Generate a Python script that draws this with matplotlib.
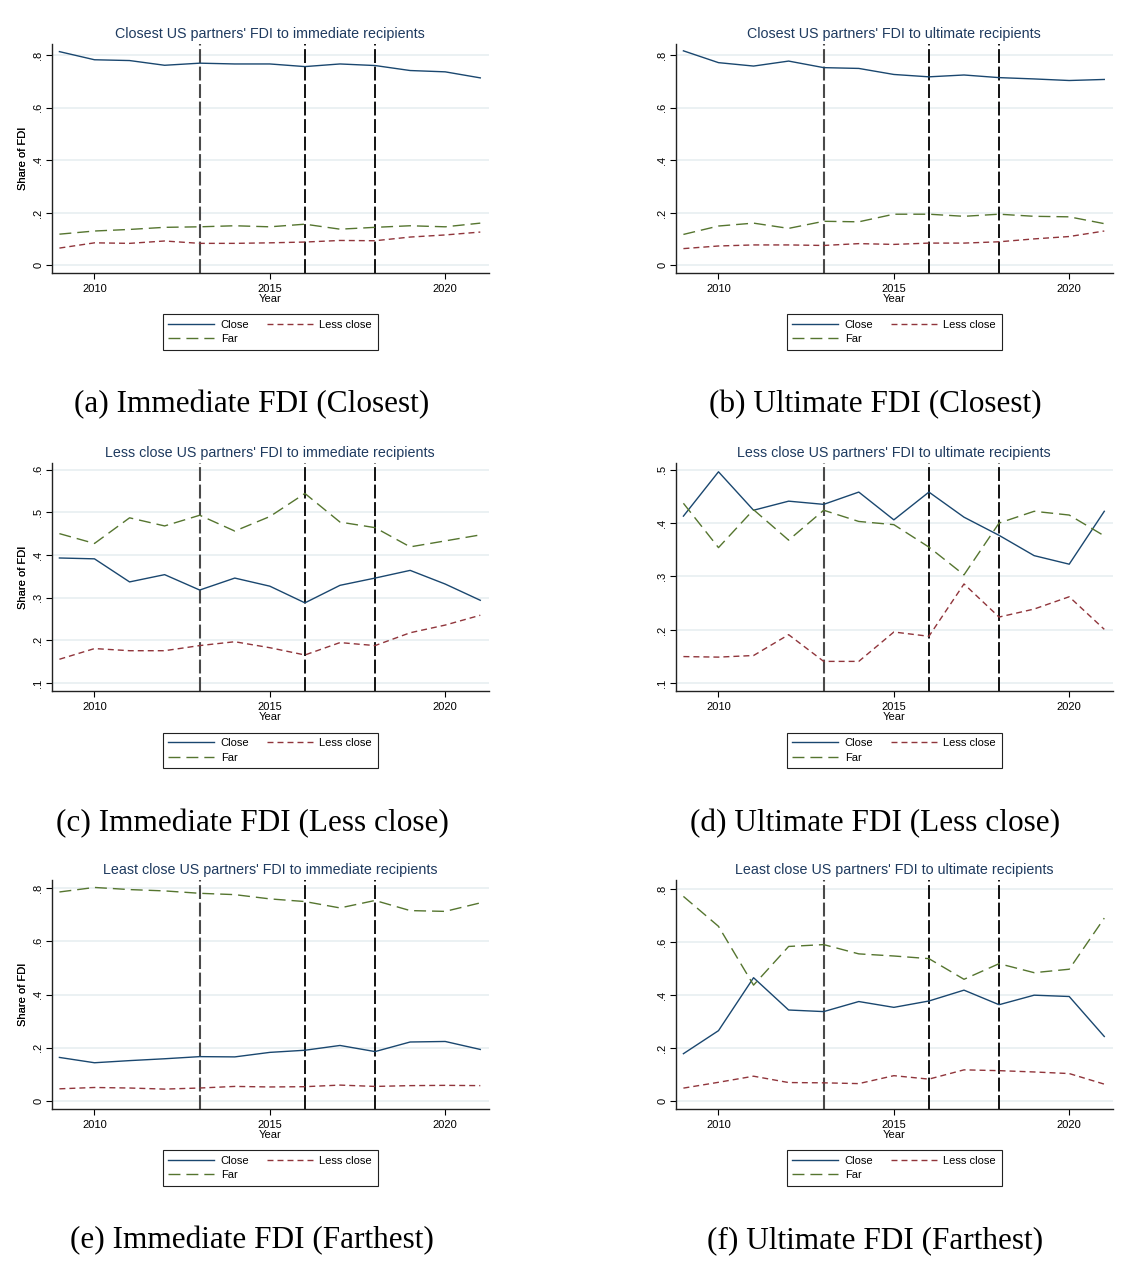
import matplotlib
matplotlib.use("Agg")
import matplotlib.pyplot as plt
from matplotlib import font_manager
from matplotlib.ticker import FuncFormatter, MultipleLocator

# ---- data ----
years = list(range(2009, 2022))
event_years = [2013, 2016, 2018]

# (a) closest partners, immediate recipients
a_close = [0.814, 0.783, 0.780, 0.762, 0.770, 0.767, 0.767, 0.757, 0.767, 0.761, 0.742, 0.737, 0.714]
a_less = [0.066, 0.086, 0.084, 0.093, 0.084, 0.084, 0.086, 0.089, 0.095, 0.094, 0.108, 0.116, 0.127]
a_far = [0.119, 0.131, 0.137, 0.145, 0.147, 0.151, 0.147, 0.157, 0.138, 0.145, 0.151, 0.147, 0.161]

# (b) closest partners, ultimate recipients
b_close = [0.817, 0.772, 0.759, 0.778, 0.753, 0.750, 0.727, 0.718, 0.725, 0.715, 0.710, 0.704, 0.708]
b_less = [0.064, 0.074, 0.078, 0.078, 0.076, 0.083, 0.080, 0.085, 0.085, 0.090, 0.101, 0.110, 0.131]
b_far = [0.118, 0.150, 0.161, 0.141, 0.168, 0.166, 0.195, 0.195, 0.187, 0.195, 0.187, 0.185, 0.159]

# (c) less close partners, immediate recipients
c_close = [0.393, 0.391, 0.337, 0.354, 0.318, 0.346, 0.327, 0.288, 0.329, 0.346, 0.364, 0.332, 0.294]
c_less = [0.156, 0.181, 0.176, 0.176, 0.188, 0.197, 0.183, 0.166, 0.195, 0.188, 0.218, 0.236, 0.259]
c_far = [0.450, 0.427, 0.487, 0.468, 0.493, 0.456, 0.490, 0.544, 0.477, 0.464, 0.419, 0.433, 0.447]

# (d) less close partners, ultimate recipients
d_close = [0.413, 0.496, 0.424, 0.441, 0.435, 0.458, 0.406, 0.458, 0.411, 0.377, 0.339, 0.323, 0.422]
d_less = [0.150, 0.149, 0.152, 0.191, 0.141, 0.141, 0.196, 0.188, 0.286, 0.224, 0.239, 0.262, 0.201]
d_far = [0.437, 0.354, 0.425, 0.368, 0.424, 0.403, 0.397, 0.355, 0.303, 0.400, 0.422, 0.415, 0.376]

# (e) least close partners, immediate recipients
e_close = [0.164, 0.144, 0.152, 0.159, 0.167, 0.166, 0.183, 0.191, 0.209, 0.186, 0.222, 0.224, 0.194]
e_less = [0.046, 0.051, 0.049, 0.045, 0.049, 0.055, 0.053, 0.054, 0.060, 0.055, 0.058, 0.059, 0.058]
e_far = [0.786, 0.803, 0.795, 0.790, 0.781, 0.776, 0.760, 0.750, 0.726, 0.754, 0.716, 0.713, 0.745]

# (f) least close partners, ultimate recipients
f_close = [0.179, 0.266, 0.466, 0.344, 0.338, 0.376, 0.354, 0.378, 0.419, 0.364, 0.400, 0.395, 0.244]
f_less = [0.049, 0.071, 0.094, 0.070, 0.069, 0.066, 0.096, 0.083, 0.118, 0.115, 0.110, 0.104, 0.064]
f_far = [0.773, 0.660, 0.438, 0.584, 0.591, 0.556, 0.548, 0.538, 0.460, 0.519, 0.485, 0.498, 0.691]

titles = [
    "Closest US partners' FDI to immediate recipients",
    "Closest US partners' FDI to ultimate recipients",
    "Less close US partners' FDI to immediate recipients",
    "Less close US partners' FDI to ultimate recipients",
    "Least close US partners' FDI to immediate recipients",
    "Least close US partners' FDI to ultimate recipients",
]
captions = [
    "(a) Immediate FDI (Closest)",
    "(b) Ultimate FDI (Closest)",
    "(c) Immediate FDI (Less close)",
    "(d) Ultimate FDI (Less close)",
    "(e) Immediate FDI (Farthest)",
    "(f) Ultimate FDI (Farthest)",
]
series = [
    (a_close, a_less, a_far),
    (b_close, b_less, b_far),
    (c_close, c_less, c_far),
    (d_close, d_less, d_far),
    (e_close, e_less, e_far),
    (f_close, f_less, f_far),
]
ylims = [(-0.03, 0.843), (-0.03, 0.843), (0.081, 0.616), (0.085, 0.513), (-0.031, 0.831), (-0.031, 0.835)]

# ---- style ----
names = {f.name for f in font_manager.fontManager.ttflist}
if "Liberation Sans Narrow" in names:
    sans, k = "Liberation Sans Narrow", 1.0
else:
    sans, k = "Liberation Sans", 0.87
plt.rcParams["font.family"] = sans
plt.rcParams["lines.scale_dashes"] = False

navy, maroon, green = "#1a476f", "#90353b", "#55752f"
small = 9.2 * k
W, H = 1127, 1268
fig = plt.figure(figsize=(W / 100, H / 100), dpi=100)

cols = [(51.7, 488.7), (675.7, 1112.7)]
rows = [(44, 273.3), (462.7, 691.3), (880, 1109.3)]
cap_x = [252, 875]


def stata_num(v, pos):
    s = f"{v:g}"
    return s.replace("0.", ".", 1) if s.startswith("0.") else s


for i in range(6):
    r, c = divmod(i, 2)
    x0, x1 = cols[c]
    y0, y1 = rows[r]
    ax = fig.add_axes([x0 / W, 1 - y1 / H, (x1 - x0) / W, (y1 - y0) / H])
    close, less, far = series[i]

    ax.set_xlim(2008.78, 2021.24)
    ax.set_ylim(*ylims[i])
    ax.yaxis.set_major_locator(MultipleLocator(0.2 if ylims[i][1] > 0.7 else 0.1))
    ax.yaxis.set_major_formatter(FuncFormatter(stata_num))
    ax.set_xticks([2010, 2015, 2020])
    ax.grid(axis="y", color="#e6eef0", linewidth=1.1)
    ax.set_axisbelow(True)

    for n, ey in enumerate(event_years):
        ax.axvline(ey, color="#4a4a4a" if n == 0 else "black", linewidth=1.5 if n == 0 else 1.3,
                   dashes=(10, 2.6), zorder=1)

    l1, = ax.plot(years, close, color=navy, linewidth=1.0, label="Close", zorder=3)
    l2, = ax.plot(years, less, color=maroon, linewidth=1.0, dashes=(4.3, 2.9), label="Less close", zorder=3)
    l3, = ax.plot(years, far, color=green, linewidth=1.0, dashes=(8.6, 4.3), label="Far", zorder=3)

    for s in ["top", "right"]:
        ax.spines[s].set_visible(False)
    for s in ["left", "bottom"]:
        ax.spines[s].set_linewidth(1.0)
        ax.spines[s].set_color("#222222")
    ax.tick_params(axis="both", length=4, width=0.8, labelsize=small, pad=2)
    ax.tick_params(axis="x", pad=3.5)
    ax.tick_params(axis="y", labelrotation=90)
    for t in ax.get_yticklabels():
        t.set_va("center")

    ax.set_title(titles[i], fontsize=11.8 * k, color="#1e3a5f", pad=4)
    ax.set_ylabel("Share of FDI", fontsize=small)
    ax.yaxis.set_label_coords((28 - x0) / (x1 - x0), 0.5)
    ax.set_xlabel("Year", fontsize=small, labelpad=0.5)

    leg = ax.legend([l1, l3, l2], ["Close", "Far", "Less close"], ncol=2,
                    loc="upper center", bbox_to_anchor=((x0 + x1) / 2 / W, 1 - (y0 + 270) / H),
                    bbox_transform=fig.transFigure, borderaxespad=0, fontsize=small,
                    handlelength=4.1, handletextpad=0.6, columnspacing=1.6,
                    labelspacing=0.4, borderpad=0.5, fancybox=False, framealpha=1)
    leg.get_frame().set_edgecolor("#222222")
    leg.get_frame().set_linewidth(0.8)

    fig.text(cap_x[c] / W, 1 - (y0 + 361) / H, captions[i], ha="center", va="center",
             fontsize=22.5, family="Liberation Serif")

fig.savefig("out.png", dpi=100, facecolor="white")
